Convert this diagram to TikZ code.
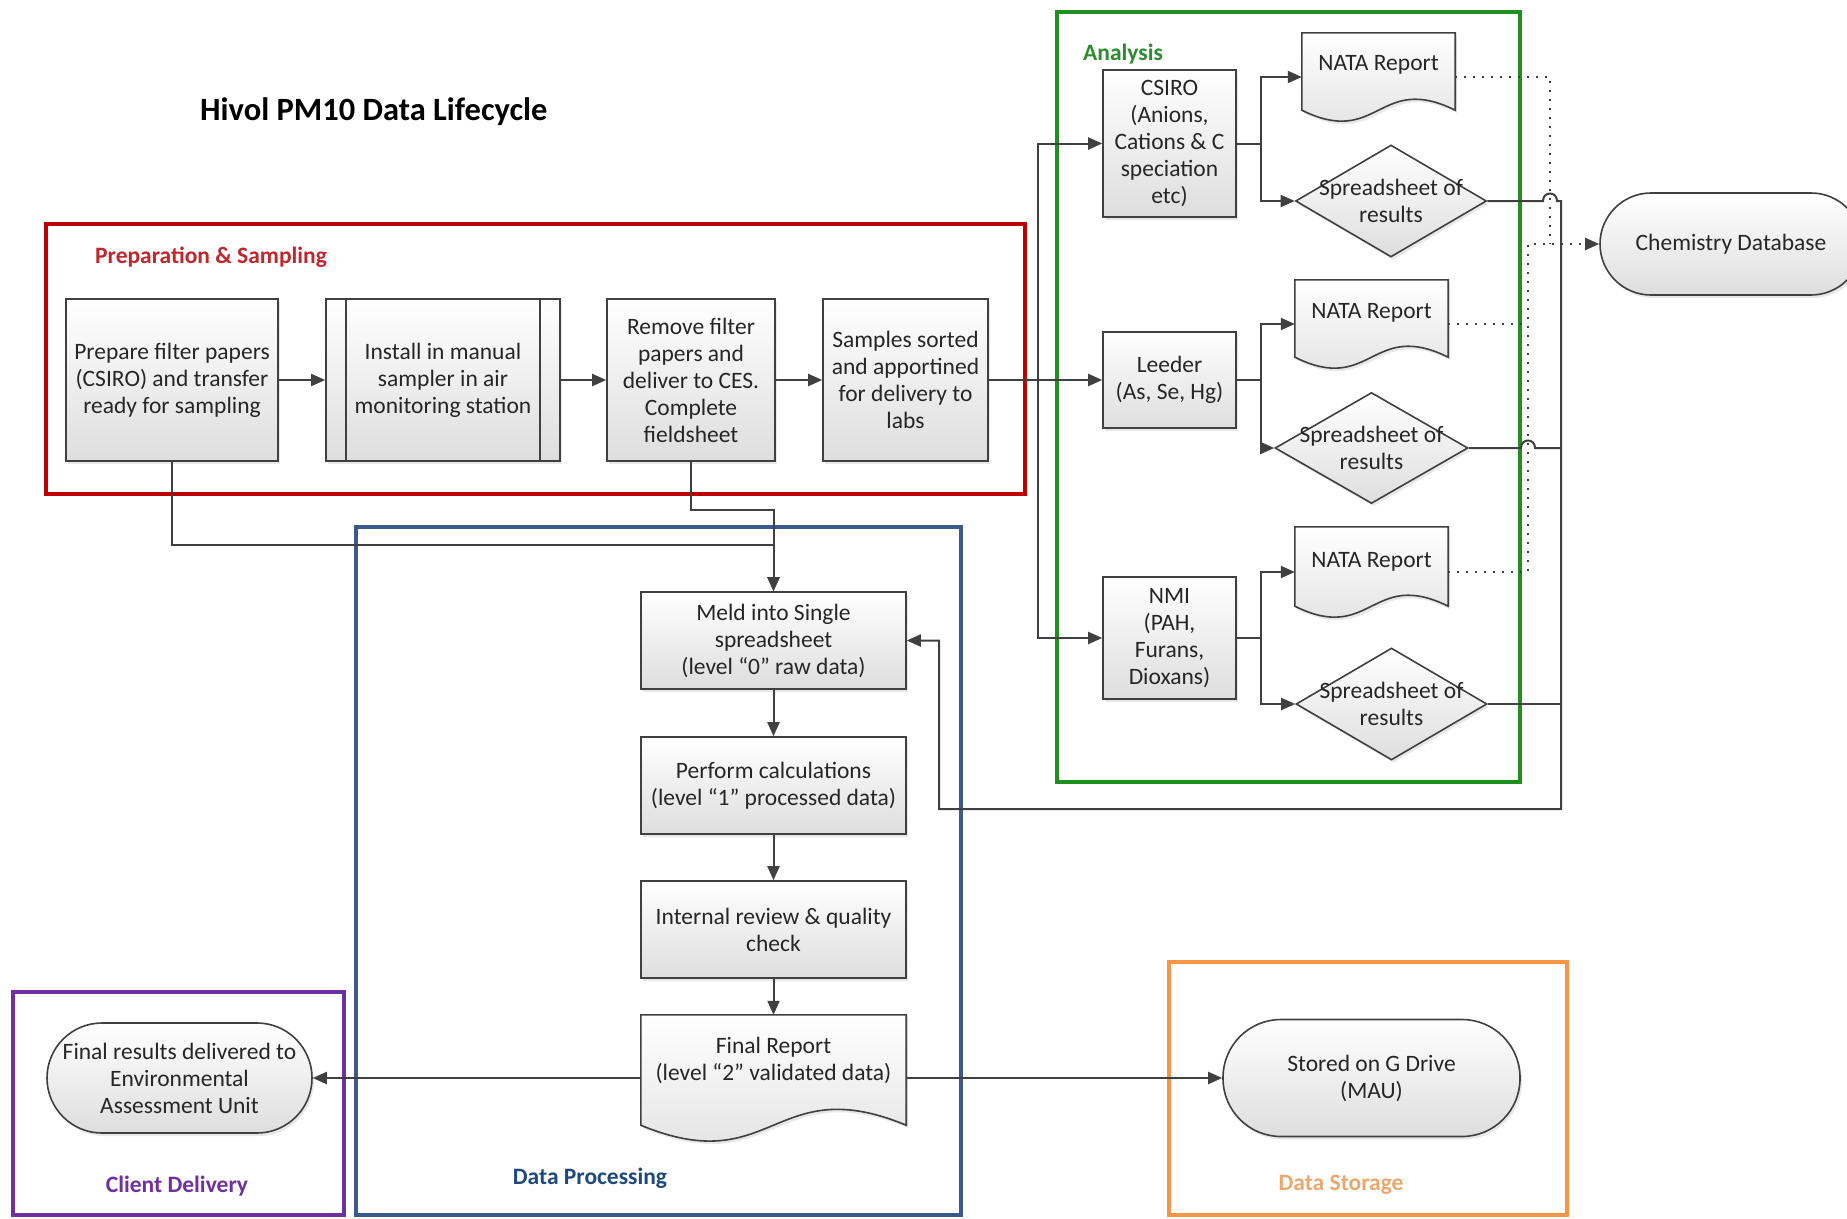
\documentclass[tikz,border=0pt]{standalone}
\usepackage{fontspec}
\setmainfont{Carlito}
\usetikzlibrary{arrows.meta,shapes.geometric,shadows,calc}
\definecolor{linec}{HTML}{404040}
\definecolor{redc}{HTML}{C00000}
\definecolor{redl}{HTML}{C0272D}
\definecolor{greenc}{HTML}{1F8F1F}
\definecolor{greenl}{HTML}{2E8B2E}
\definecolor{bluec}{HTML}{3A5A8C}
\definecolor{bluel}{HTML}{1F497D}
\definecolor{purplec}{HTML}{7030A0}
\definecolor{orangec}{HTML}{F79646}
\definecolor{orangel}{HTML}{EBA86E}
\newcommand\bodyfs{\fontsize{23.5}{27}\selectfont}
\newcommand\grpfs{\fontsize{23.5}{27}\selectfont\bfseries}
\newcommand\docshape[3]{\path[boxfill, drop shadow={opacity=0.18,shadow xshift=2pt,shadow yshift=-3pt}] (#1.north west) -- (#1.north east) -- ($(#1.south east)+(0,-#2)$) .. controls ($(#1.south)+(0,-#2-#3)$) and ($(#1.south)+(0,-#2+#3)$) .. ($(#1.south west)+(0,-#2)$) -- cycle;}
\tikzset{
  conn/.style={draw=linec, line width=2pt},
  arr/.style={conn, -{Triangle[length=14pt,width=12pt]}},
  dotc/.style={draw=linec, line width=2.2pt, dash pattern=on 2pt off 7pt},
  boxfill/.style={top color=white, bottom color=black!13, draw=linec, line width=1.6pt},
  proc/.style={rectangle, boxfill, drop shadow={opacity=0.18,shadow xshift=2pt,shadow yshift=-3pt}, align=center, font=\bodyfs, text=black!85, inner sep=0pt},
  ghost/.style={rectangle, draw=none, fill=none, inner sep=0pt},
  diam/.style={diamond, boxfill, drop shadow={opacity=0.18,shadow xshift=2pt,shadow yshift=-3pt}, inner sep=0pt},
  txt/.style={align=center, font=\bodyfs, text=black!85, inner sep=0pt},
  container/.style={line width=3.5pt},
  grplabel/.style={font=\grpfs, inner sep=0pt},
}
\begin{document}
\begin{tikzpicture}[x=1pt,y=-1pt]
\useasboundingbox (0,0) rectangle (1847,1218);
\fill[white] (0,0) rectangle (1847,1218);

% containers
\draw[container, draw=redc] (46,224) rectangle (1025,494);
\draw[container, draw=greenc] (1057,12) rectangle (1520,782);
\draw[container, draw=bluec] (356,527) rectangle (961,1215);
\draw[container, draw=purplec] (13,992) rectangle (344,1215);
\draw[container, draw=orangec] (1169,962) rectangle (1567,1215);

% title and group labels
\node[font=\fontsize{32.5}{36}\selectfont\bfseries, anchor=west, inner sep=0pt] (title) at (200,112) {Hivol PM10 Data Lifecycle};
\node[grplabel, text=redl, anchor=west] (lprep) at (95,257) {Preparation \& Sampling};
\node[grplabel, text=greenl, anchor=west] (lana) at (1083,54) {Analysis};
\node[grplabel, text=bluel] (lproc) at (590,1178) {Data Processing};
\node[grplabel, text=purplec] (lcli) at (177,1186) {Client Delivery};
\node[grplabel, text=orangel] (lsto) at (1341,1185) {Data Storage};

% preparation & sampling
\node[proc, minimum width=212, minimum height=162] (p1) at (172,380) {Prepare filter papers\\(CSIRO) and transfer\\ready for sampling};
\node[proc, minimum width=234, minimum height=162] (p2) at (443,380) {Install in manual\\sampler in air\\monitoring station};
\draw[draw=linec, line width=1.6pt] ($(p2.north west)+(21,0)$) -- ($(p2.south west)+(21,0)$);
\draw[draw=linec, line width=1.6pt] ($(p2.north east)+(-21,0)$) -- ($(p2.south east)+(-21,0)$);
\node[proc, minimum width=168, minimum height=162] (p3) at (691,380) {Remove filter\\papers and\\deliver to CES.\\Complete\\fieldsheet};
\node[proc, minimum width=165, minimum height=162] (p4) at (905.5,380) {Samples sorted\\and apportined\\for delivery to\\labs};

% analysis
\node[proc, minimum width=133, minimum height=147] (csiro) at (1169.5,143.5) {CSIRO\\(Anions,\\Cations \& C\\speciation\\etc)};
\node[proc, minimum width=133, minimum height=96] (leeder) at (1169.5,380) {Leeder\\(As, Se, Hg)};
\node[proc, minimum width=133, minimum height=122] (nmi) at (1169.5,638) {NMI\\(PAH,\\Furans,\\Dioxans)};

\node[ghost, minimum width=153, minimum height=88] (nata1) at (1378.5,77) {};
\docshape{nata1}{11}{38}
\node[txt] (nata1t) at ($(nata1.north)+(0,32)$) {NATA Report};
\node[ghost, minimum width=153, minimum height=88] (nata2) at (1371.5,324) {};
\docshape{nata2}{11}{38}
\node[txt] (nata2t) at ($(nata2.north)+(0,33)$) {NATA Report};
\node[ghost, minimum width=153, minimum height=90] (nata3) at (1371.5,572) {};
\docshape{nata3}{11}{38}
\node[txt] (nata3t) at ($(nata3.north)+(0,35)$) {NATA Report};

\node[diam, minimum width=191, minimum height=112, label={[txt]center:{Spreadsheet of\\results}}] (ss1) at (1391,201) {};
\node[diam, minimum width=193, minimum height=111, label={[txt]center:{Spreadsheet of\\results}}] (ss2) at (1371.5,448) {};
\node[diam, minimum width=191, minimum height=112, label={[txt]center:{Spreadsheet of\\results}}] (ss3) at (1391.5,704) {};

\node[proc, rounded corners=51, minimum width=262, minimum height=102] (chem) at (1731,244) {Chemistry Database};

% data processing
\node[proc, minimum width=265, minimum height=97] (meld) at (773.5,640.5) {Meld into Single\\spreadsheet\\(level “0” raw data)};
\node[proc, minimum width=265, minimum height=97] (perf) at (773.5,785.5) {Perform calculations\\(level “1” processed data)};
\node[proc, minimum width=265, minimum height=97] (intr) at (773.5,929.5) {Internal review \& quality\\check};
\node[ghost, minimum width=265, minimum height=126] (final) at (773.5,1078) {};
\docshape{final}{16}{55}
\node[txt] (finalt) at ($(final.north)+(0,46)$) {Final Report\\(level “2” validated data)};

% client and storage
\node[proc, rounded corners=55, minimum width=265, minimum height=110] (client) at (179.5,1078) {Final results delivered to\\Environmental\\Assessment Unit};
\node[proc, rounded corners=58, minimum width=297, minimum height=117] (stored) at (1371.5,1078) {Stored on G Drive\\(MAU)};

% connectors: preparation
\draw[arr] (p1.east) -- (p2.west);
\draw[arr] (p2.east) -- (p3.west);
\draw[arr] (p3.east) -- (p4.west);
\draw[arr] (p4.east) -- (leeder.west);
\coordinate (split) at (1038,380);
\draw[arr] (split) |- (csiro.west);
\draw[arr] (split) |- (nmi.west);

% connectors: analysis
\draw[arr] (csiro.east) -- ++(24,0) |- (nata1.west);
\draw[arr] (csiro.east) -- ++(24,0) |- (ss1.west);
\draw[arr] (leeder.east) -- ++(24,0) |- (nata2.west);
\draw[arr] (leeder.east) -- ++(24,0) |- (ss2.west);
\draw[arr] (nmi.east) -- ++(24,0) |- (nata3.west);
\draw[arr] (nmi.east) -- ++(24,0) |- (ss3.west);

% dotted to chemistry database
\draw[dotc] (nata1.east) -| (1550,244);
\draw[dotc] (nata2.east) -- (1528,324);
\draw[dotc, -{Triangle[length=14pt,width=12pt]}] (nata3.east) -| (1528,244) -- (chem.west);

% feedback from spreadsheets to meld
\draw[arr] (ss1.east) -- (1543,201) .. controls (1543,191) and (1557,191) .. (1557,201) -- (1561,201) -- (1561,809) -- (939,809) |- (meld.east);
\draw[conn] (ss2.east) -- (1521,448) .. controls (1521,438) and (1535,438) .. (1535,448) -- (1561,448);
\draw[conn] (ss3.east) -- (1561,704);

% sampling to meld
\draw[arr] (p1.south) -- ++(0,83) -| (meld.north);
\draw[arr] (p3.south) -- ++(0,48) -| (meld.north);

% data processing flow
\draw[arr] (meld.south) -- (perf.north);
\draw[arr] (perf.south) -- (intr.north);
\draw[arr] (intr.south) -- (final.north);
\draw[arr] (final.west) -- (client.east);
\draw[arr] (final.east) -- (stored.west);
\end{tikzpicture}
\end{document}
